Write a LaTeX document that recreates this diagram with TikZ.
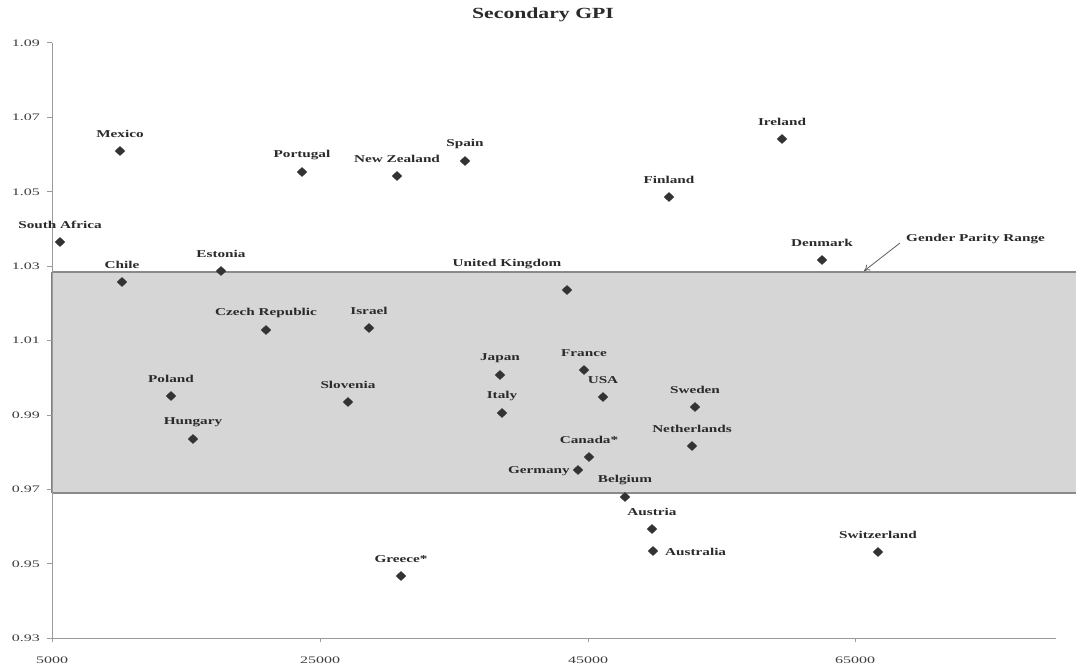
\documentclass[tikz,border=0pt]{standalone}
\usepackage{fontspec}
\setmainfont{Liberation Serif}
\newfontfamily\labfont[FakeStretch=1.45]{Liberation Serif}
\newfontfamily\tickfont[FakeStretch=1.6]{Liberation Serif}
\newfontfamily\titlefont[FakeStretch=1.4]{Liberation Serif}
\usetikzlibrary{shapes.geometric,arrows.meta}
\definecolor{dot}{HTML}{333333}
\definecolor{axisgray}{HTML}{9A9A9A}
\definecolor{bandfill}{HTML}{D6D6D6}
\definecolor{bandline}{HTML}{8A8A8A}
\definecolor{txt}{HTML}{2A2A2A}
\tikzset{
  datapt/.style={diamond, fill=dot, draw=none, minimum width=10.5pt, minimum height=10pt, inner sep=0pt},
  lab/.style={font=\labfont\bfseries\fontsize{10.5}{12}\selectfont, text=txt, inner sep=0pt},
  ticklab/.style={font=\tickfont\fontsize{10}{12}\selectfont, text=txt!90, inner sep=0pt},
  axisline/.style={draw=axisgray, line width=1pt},
}
\newcommand{\mkpt}[5]{%
  \node[datapt] (#1) at (#2,#3) {};
  \node[lab] (#1-l) at (#2,#3-17) {#4};
}
\begin{document}
\begin{tikzpicture}[x=1pt,y=-1pt]
\useasboundingbox (0,0) rectangle (1076,668);
\fill[white] (0,0) rectangle (1076,668);
% title
\node[font=\titlefont\bfseries\fontsize{15.5}{18}\selectfont, text=txt, inner sep=0pt] (title) at (543,15) {Secondary GPI};
% gender parity band
\fill[bandfill] (52,272) rectangle (1076,493);
\draw[draw=bandline!35, line width=0.8pt] (973,272) -- (973,493);
\draw[draw=bandline, line width=1.5pt] (52,272) -- (1076,272);
\draw[draw=bandline, line width=1.5pt] (52,493) -- (1076,493);
\draw[draw=bandline!110, line width=2pt] (52,272) -- (52,493);
% axes
\coordinate (ytop) at (52,43);
\coordinate (orig) at (52,638);
\coordinate (xend) at (1056,638);
\draw[axisline] (ytop) -- (orig) -- (xend);
\foreach \v/\yy in {1.09/43,1.07/117.4,1.05/191.8,1.03/266.2,1.01/340.6,0.99/415,0.97/489.4,0.95/563.8,0.93/638}{
  \draw[axisline] (47,\yy) -- (52,\yy);
  \node[ticklab, anchor=east] at (40,\yy) {\v};
}
\foreach \v/\xx in {5000/52,25000/320,45000/588,65000/855}{
  \draw[axisline] (\xx,638) -- (\xx,642);
  \node[ticklab] at (\xx,660) {\v};
}
% data points
\mkpt{mexico}{120}{151}{Mexico}{}
\mkpt{portugal}{302}{172}{Portugal}{}
\mkpt{newzealand}{397}{176}{New Zealand}{}
\mkpt{spain}{465}{161}{Spain}{}
\mkpt{finland}{669}{197}{Finland}{}
\mkpt{ireland}{782}{139}{Ireland}{}
\mkpt{southafrica}{60}{242}{South Africa}{}
\mkpt{chile}{122}{282}{Chile}{}
\mkpt{estonia}{221}{271}{Estonia}{}
\mkpt{czech}{266}{330}{Czech Republic}{}
\mkpt{israel}{369}{328}{Israel}{}
\mkpt{poland}{171}{396}{Poland}{}
\mkpt{hungary}{193}{439}{Hungary}{}
\mkpt{slovenia}{348}{402}{Slovenia}{}
\mkpt{japan}{500}{375}{Japan}{}
\mkpt{italy}{502}{413}{Italy}{}
\mkpt{france}{584}{370}{France}{}
\mkpt{usa}{603}{397}{USA}{}
\mkpt{sweden}{695}{407}{Sweden}{}
\mkpt{netherlands}{692}{446}{Netherlands}{}
\mkpt{canada}{589}{457}{Canada*}{}
\mkpt{austria}{652}{529}{Austria}{}
\mkpt{greece}{401}{576}{Greece*}{}
\mkpt{denmark}{822}{260}{Denmark}{}
\mkpt{switzerland}{878}{552}{Switzerland}{}
% points with other label placements
\node[datapt] (uk) at (567,290) {};
\node[lab] (uk-l) at (507,264) {United Kingdom};
\node[datapt] (belgium) at (625,497) {};
\node[lab] (belgium-l) at (625,480) {Belgium};
\node[datapt] (germany) at (578,470) {};
\node[lab, anchor=east] (germany-l) at (570,471) {Germany};
\node[datapt] (australia) at (653,551) {};
\node[lab, anchor=west] (australia-l) at (665,552) {Australia};
% gender parity range annotation
\node[lab, anchor=west] (gpr) at (906,239) {Gender Parity Range};
\coordinate (gprtip) at (864,271);
\draw[draw=dot!80, line width=0.8pt, -{To[length=6pt,width=7pt]}] (gpr.west) ++(-6,4) -- (gprtip);
\end{tikzpicture}
\end{document}
